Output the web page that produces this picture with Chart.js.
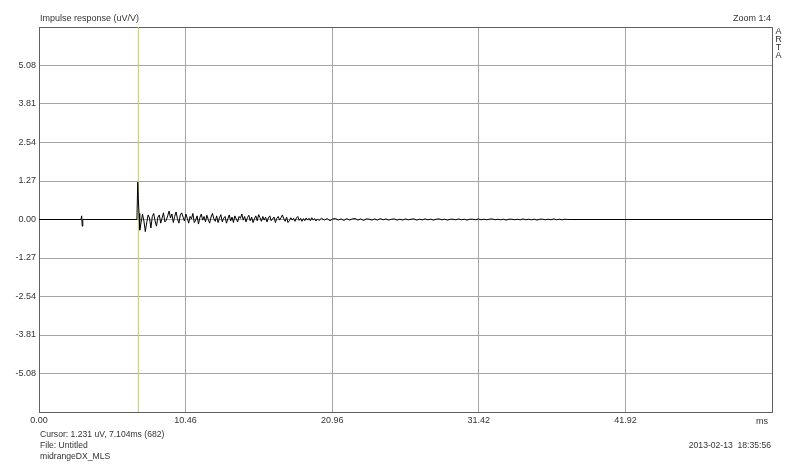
<!DOCTYPE html>
<html>
<head>
<meta charset="utf-8">
<script src="https://cdn.jsdelivr.net/npm/chart.js@4/dist/chart.umd.min.js"></script>
<style>
  html, body { margin: 0; padding: 0; background: #fff; }
  #wrap { position: relative; width: 800px; height: 464px; background: #fff; overflow: hidden; }
  #c { position: absolute; left: 0; top: 0; }
  .t { position: absolute; font-family: "Liberation Sans", Arial, sans-serif; font-size: 9px; color: #333; white-space: pre; line-height: 11px; }
</style>
</head>
<body>
<div id="wrap">
  <canvas id="c" width="800" height="464"></canvas>
  <div class="t" style="left:40px; top:13px;">Impulse response (uV/V)</div>
  <div class="t" style="right:29px; top:13px; text-align:right;">Zoom 1:4</div>
  <div class="t" style="left:774px; top:27px; line-height:8px; text-align:center; width:9px;">A<br>R<br>T<br>A</div>
  <div class="t" style="left:756px; top:416px;">ms</div>
  <div class="t" style="left:40px; top:429px; font-size:8.6px;">Cursor: 1.231 uV, 7.104ms (682)</div>
  <div class="t" style="left:40px; top:440px; font-size:8.6px;">File: Untitled</div>
  <div class="t" style="left:40px; top:451px; font-size:8.6px;">midrangeDX_MLS</div>
  <div class="t" style="right:29px; top:440px; text-align:right; font-size:8.6px;">2013-02-13  18:35:56</div>
</div>
<script>
// ---- axis ticks ----
const yTickValues = [-6.35, -5.08, -3.81, -2.54, -1.27, 0, 1.27, 2.54, 3.81, 5.08, 6.35];
const yTickLabels = ['', '-5.08', '-3.81', '-2.54', '-1.27', '0.00', '1.27', '2.54', '3.81', '5.08', ''];
const xTickValues = [0, 10.48, 20.96, 31.44, 41.92, 52.4];
const xTickLabels = ['0.00', '10.46', '20.96', '31.42', '41.92', ''];

// ---- cursor ----
const cursorTime = 7.104;   // ms
const cursorValue = 1.231;  // uV

// ---- impulse: leading part (ms, uV/V) ----
const headTimes  = [0, 3.0, 3.05, 3.09, 3.13, 7.0, 7.06, 7.1, 7.15, 7.2];
const headValues = [0, 0,   0.12, -0.22, 0,   0,   1.231, 0.7, 0.2, -0.35];

// ---- impulse: early tail, one sample every 0.1 ms from 7.3 ms ----
const tailAStart = 7.3;
const tailAStep = 0.1;
const tailAValues = [
  -0.1, 0.18, -0.05, -0.4, -0.1, 0.15, 0.05, -0.28, 0.1, 0.2,
  -0.05, -0.22, 0.08, 0.15, -0.12, 0.05, 0.22, -0.08, -0.02, 0.12,
  0.28, 0.05, 0.18, -0.1, 0.1, 0.25, 0.02, -0.12, 0.15, 0.22,
  0.08, -0.05, 0.18, 0.04, -0.12, 0.1, 0.02, 0.2, -0.1, -0.02,
  0.12, -0.15, 0.06, 0.18, -0.02, 0.1, -0.08, 0.14, 0.0, -0.12,
  0.08, 0.2, 0.02, -0.06, 0.12, -0.1, 0.05, 0.16, -0.08, 0.04,
  0.1, -0.12, 0.02, 0.15, -0.05, 0.08, -0.1, 0.12, 0.02, -0.08,
  0.1, 0.04, 0.18, -0.02, 0.1, -0.08, 0.06, 0.14, -0.04, 0.08,
  -0.1, 0.02, 0.12, -0.04, 0.16, 0.06, -0.06, 0.1, -0.02, 0.08,
  -0.08, 0.05, 0.12, -0.04, 0.02, 0.08, -0.1, 0.04, 0.1, -0.02,
  0.06, 0.15, 0.02, -0.06, 0.08, -0.1, -0.04, 0.06, -0.02, 0.04,
  -0.06, 0.05, 0.1, -0.03, 0.04, -0.06, 0.03, -0.04, 0.05, -0.02,
  0.04, -0.04, 0.06, -0.02, 0.03, -0.05, 0.02
];

// ---- impulse: late tail, one sample every 0.2 ms from 20.0 ms ----
const tailBStart = 20.0;
const tailBStep = 0.2;
const tailBValues = [
  -0.03, 0.04, -0.02, 0.03, -0.04, 0.02, 0.03, -0.02, 0.02, -0.03,
  0.03, -0.02, 0.02, 0.03, -0.02, 0.02, -0.03, 0.02, 0.01, -0.02,
  0.02, -0.02, 0.03, -0.01, 0.02, -0.02, 0.01, 0.02, -0.02, 0.01,
  -0.02, 0.02, -0.01, 0.01, 0.02, -0.02, 0.01, -0.01, 0.02, -0.01,
  0.01, -0.02, 0.01, 0.02, -0.01, 0.01, -0.02, 0.01, 0.01, -0.01,
  0.02, -0.01, 0.01, -0.02, 0.01, 0.01, -0.01, 0.02, -0.01, 0.01,
  -0.01, 0.01, 0.02, -0.01, 0.01, -0.01, 0.01, -0.02, 0.01, 0.01,
  -0.01, 0.01, -0.01, 0.02, -0.01, 0.01, -0.01, 0.01, -0.02, 0.01,
  0.01, -0.01, 0.01, -0.01, 0.02, -0.01, 0.01, -0.01, 0.01, 0,
  0
];
const endTime = 52.4;

const impulsePoints = headTimes.map((t, i) => ({ x: t, y: headValues[i] }));
tailAValues.forEach((v, i) => impulsePoints.push({ x: +(tailAStart + i * tailAStep).toFixed(3), y: v }));
tailBValues.forEach((v, i) => impulsePoints.push({ x: +(tailBStart + i * tailBStep).toFixed(3), y: v }));
impulsePoints.push({ x: endTime, y: 0 });

const GRID = '#a4a4a4';
const BORDER = '#606060';
const FONT = { family: '"Liberation Sans", Arial, sans-serif', size: 9 };

new Chart(document.getElementById('c'), {
  type: 'scatter',
  data: {
    datasets: [
      {
        label: 'Impulse response',
        data: impulsePoints,
        showLine: true,
        borderColor: '#000',
        borderWidth: 1,
        pointRadius: 0,
        tension: 0,
        order: 1
      },
      {
        label: 'Cursor',
        data: [{ x: cursorTime, y: -6.35 }, { x: cursorTime, y: 6.35 }],
        showLine: true,
        borderColor: '#c8cc60',
        borderWidth: 1,
        pointRadius: 0,
        order: 2
      }
    ]
  },
  options: {
    responsive: false,
    animation: false,
    devicePixelRatio: 1,
    layout: { padding: { left: 0, right: 28, top: 27, bottom: 0 } },
    plugins: { legend: { display: false }, tooltip: { enabled: false }, title: { display: false } },
    scales: {
      x: {
        type: 'linear',
        min: 0, max: endTime,
        afterBuildTicks: s => { s.ticks = xTickValues.map(v => ({ value: v })); },
        afterFit: s => { s.height = 52; },
        ticks: {
          autoSkip: false, maxRotation: 0, padding: 3,
          color: '#333', font: FONT,
          callback: (v, i) => xTickLabels[i]
        },
        grid: {
          drawTicks: false,
          color: c => (c.index === 0 || c.index === xTickValues.length - 1) ? BORDER : GRID,
          lineWidth: 1
        },
        border: { display: true, color: BORDER, width: 1 }
      },
      y: {
        type: 'linear',
        min: -6.35, max: 6.35,
        afterBuildTicks: s => { s.ticks = yTickValues.map(v => ({ value: v })); },
        afterFit: s => { s.width = 39; },
        ticks: {
          autoSkip: false, padding: 3,
          color: '#333', font: FONT,
          callback: (v, i) => yTickLabels[i]
        },
        grid: {
          drawTicks: false,
          color: c => (c.index === 0 || c.index === yTickValues.length - 1) ? BORDER : GRID,
          lineWidth: 1
        },
        border: { display: true, color: BORDER, width: 1 }
      }
    }
  }
});
</script>
</body>
</html>
